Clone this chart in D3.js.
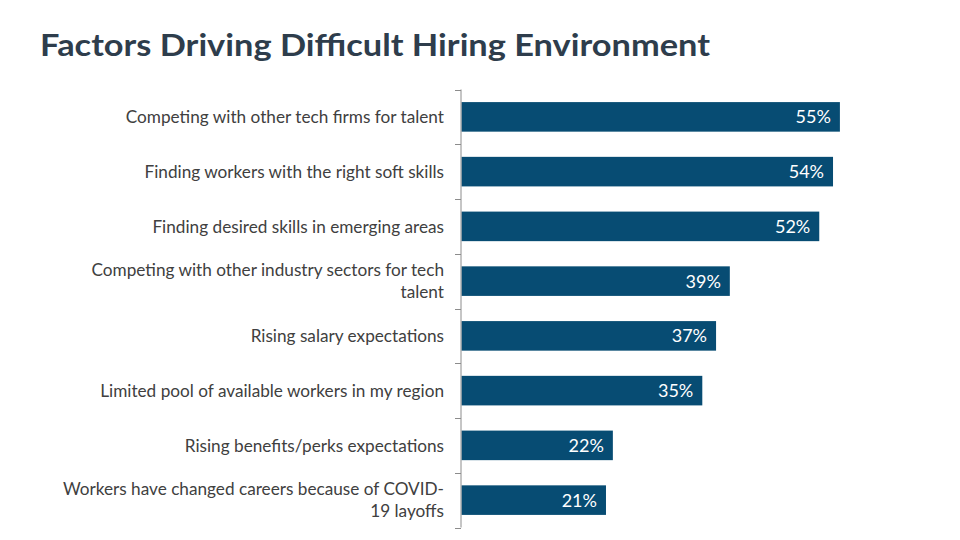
<!DOCTYPE html>
<html><head><meta charset="utf-8">
<script src="https://cdn.jsdelivr.net/npm/d3@7"></script>
<style>body{margin:0;background:#fff}svg{display:block}</style>
</head><body>
<svg id="c" width="960" height="540"></svg>
<script>
const categories = [
  ["Competing with other tech firms for talent"],
  ["Finding workers with the right soft skills"],
  ["Finding desired skills in emerging areas"],
  ["Competing with other industry sectors for tech", "talent"],
  ["Rising salary expectations"],
  ["Limited pool of available workers in my region"],
  ["Rising benefits/perks expectations"],
  ["Workers have changed careers because of COVID-", "19 layoffs"]
];
const values = [55, 54, 52, 39, 37, 35, 22, 21];
const title = "Factors Driving Difficult Hiring Environment";

const svg = d3.select("#c");
const font = "Lato, 'Open Sans', sans-serif";
svg.append("text").attr("x", 40).attr("y", 56)
  .attr("font-family", font).attr("font-weight", 700).attr("font-size", 30)
  .attr("fill", "#2E3D4C").attr("textLength", 670).attr("lengthAdjust", "spacingAndGlyphs")
  .text(title);

const idx = d3.range(values.length);
const y = d3.scaleBand().domain(idx).range([89.5, 527.5]).paddingInner(0.46).paddingOuter(0.23);
const x = d3.scaleLinear().domain([0, 60]).range([461.5, 874.3]);

const g = svg.append("g");
g.selectAll("rect.bar").data(idx).join("rect").attr("class", "bar")
  .attr("x", x(0)).attr("y", i => y(i)).attr("height", y.bandwidth())
  .attr("width", i => x(values[i]) - x(0)).attr("fill", "#074C73");

g.selectAll("text.val").data(idx).join("text").attr("class", "val")
  .attr("x", i => x(values[i]) - 9).attr("y", i => y(i) + y.bandwidth() / 2)
  .attr("dy", "0.36em").attr("text-anchor", "end")
  .attr("font-family", font).attr("font-size", 18).attr("fill", "#fff")
  .text(i => values[i] + "%");

// axis
const ax = svg.append("g").attr("stroke", "#8C8C8C").attr("stroke-width", 1);
ax.append("line").attr("x1", 461).attr("x2", 461).attr("y1", 89.5).attr("y2", 527.5);
const bounds = d3.range(values.length + 1).map(k => 89.5 + k * (438 / values.length));
ax.selectAll("line.t").data(bounds).join("line").attr("class", "t")
  .attr("x1", 455).attr("x2", 461).attr("y1", d => Math.round(d) + 0.5).attr("y2", d => Math.round(d) + 0.5);

// labels
const lg = svg.append("g").attr("font-family", font).attr("font-size", 17.2).attr("fill", "#404040").attr("text-anchor", "end");
idx.forEach(i => {
  const lines = categories[i];
  const cy = y(i) + y.bandwidth() / 2;
  const lh = 22;
  lines.forEach((t, j) => {
    lg.append("text").attr("x", 444)
      .attr("y", cy + (j - (lines.length - 1) / 2) * lh)
      .attr("dy", "0.36em").text(t);
  });
});
</script>
</body></html>
